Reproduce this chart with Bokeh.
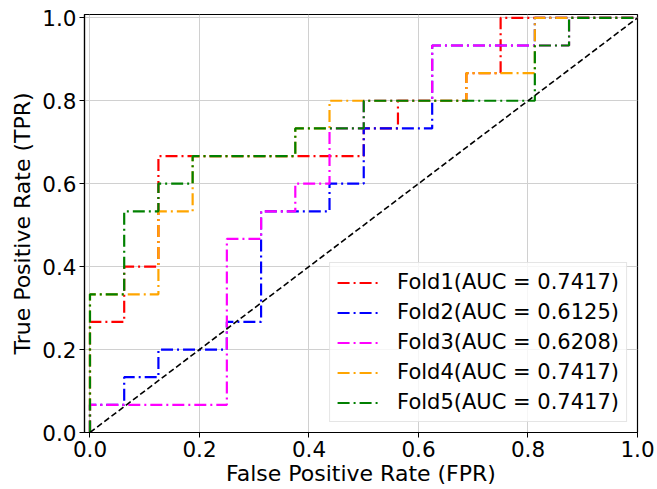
from bokeh.plotting import figure
from bokeh.models import Range1d, FixedTicker, PrintfTickFormatter, Legend, LegendItem
from bokeh.embed import file_html
from bokeh.resources import INLINE

# ---- data (ROC corner points) ----
fold1_fpr = [0, 0, 0.0625, 0.0625, 0.125, 0.125, 0.5, 0.5, 0.5625, 0.5625, 0.6875, 0.6875, 0.75, 0.75, 1.0]
fold1_tpr = [0, 0.2667, 0.2667, 0.4, 0.4, 0.6667, 0.6667, 0.7333, 0.7333, 0.8, 0.8, 0.8667, 0.8667, 1.0, 1.0]

fold2_fpr = [0, 0, 0.0625, 0.0625, 0.125, 0.125, 0.25, 0.25, 0.3125, 0.3125, 0.4375, 0.4375, 0.5, 0.5,
             0.625, 0.625, 0.8125, 0.8125, 1.0]
fold2_tpr = [0, 0.0667, 0.0667, 0.1333, 0.1333, 0.2, 0.2, 0.2667, 0.2667, 0.5333, 0.5333, 0.6, 0.6, 0.7333,
             0.7333, 0.9333, 0.9333, 1.0, 1.0]

fold3_fpr = [0, 0, 0.25, 0.25, 0.3125, 0.3125, 0.375, 0.375, 0.4375, 0.4375, 0.5, 0.5, 0.625, 0.625,
             0.875, 0.875, 1.0]
fold3_tpr = [0, 0.0667, 0.0667, 0.4667, 0.4667, 0.5333, 0.5333, 0.6, 0.6, 0.7333, 0.7333, 0.8, 0.8, 0.9333,
             0.9333, 1.0, 1.0]

fold4_fpr = [0, 0, 0.125, 0.125, 0.1875, 0.1875, 0.375, 0.375, 0.4375, 0.4375, 0.6875, 0.6875, 0.8125, 0.8125, 1.0]
fold4_tpr = [0, 0.3333, 0.3333, 0.5333, 0.5333, 0.6667, 0.6667, 0.7333, 0.7333, 0.8, 0.8, 0.8667, 0.8667, 1.0, 1.0]

fold5_fpr = [0, 0, 0.0625, 0.0625, 0.125, 0.125, 0.1875, 0.1875, 0.375, 0.375, 0.5, 0.5, 0.8125, 0.8125,
             0.875, 0.875, 1.0]
fold5_tpr = [0, 0.3333, 0.3333, 0.5333, 0.5333, 0.6, 0.6, 0.6667, 0.6667, 0.7333, 0.7333, 0.8, 0.8, 0.9333,
             0.9333, 1.0, 1.0]

fold_names = ["Fold1", "Fold2", "Fold3", "Fold4", "Fold5"]
fold_auc = [0.7417, 0.6125, 0.6208, 0.7417, 0.7417]
fold_colors = ["#ff0000", "#0000ff", "#ff00ff", "#ffa500", "#008000"]

chance_x = [0, 1]
chance_y = [0, 1]

tick_values = [0.0, 0.2, 0.4, 0.6, 0.8, 1.0]

FONT = "DejaVu Sans"

p = figure(width=657, height=489, output_backend="svg", toolbar_location=None,
           x_range=Range1d(-0.01, 1.0), y_range=Range1d(0.0, 1.008),
           min_border_left=84, min_border_right=20, min_border_top=14, min_border_bottom=57)
p.background_fill_color = "white"
p.border_fill_color = "white"
p.outline_line_color = "black"
p.outline_line_width = 1.2

for ax in (p.xaxis[0], p.yaxis[0]):
    ax.ticker = FixedTicker(ticks=tick_values)
    ax.formatter = PrintfTickFormatter(format="%.1f")
    ax.major_label_text_font = FONT
    ax.major_label_text_font_size = "21.5px"
    ax.major_label_text_color = "black"
    ax.axis_label_text_font = FONT
    ax.axis_label_text_font_size = "22px"
    ax.axis_label_text_font_style = "normal"
    ax.axis_label_text_color = "black"
    ax.axis_line_color = "black"
    ax.axis_line_width = 1.2
    ax.major_tick_line_color = "black"
    ax.major_tick_out = 5
    ax.major_tick_in = 0
    ax.minor_tick_line_color = None
    ax.major_label_standoff = 3

p.xaxis[0].axis_label_standoff = 1
p.yaxis[0].axis_label_standoff = 4

p.xaxis.axis_label = "False Positive Rate (FPR)"
p.yaxis.axis_label = "True Positive Rate (TPR)"

p.grid.ticker = FixedTicker(ticks=tick_values)
p.grid.grid_line_color = "#d0d0d0"
p.grid.grid_line_width = 1

fprs = [fold1_fpr, fold2_fpr, fold3_fpr, fold4_fpr, fold5_fpr]
tprs = [fold1_tpr, fold2_tpr, fold3_tpr, fold4_tpr, fold5_tpr]

items = []
for name, auc, col, fx, ty in zip(fold_names, fold_auc, fold_colors, fprs, tprs):
    r = p.line(fx, ty, line_color=col, line_width=2.2, line_dash="12 4 2 4")
    items.append(LegendItem(label="%s(AUC = %.4f)" % (name, auc), renderers=[r]))

p.line(chance_x, chance_y, line_color="black", line_width=1.6, line_dash="6 3")

legend = Legend(items=items, location="bottom_right", margin=10, padding=7,
                glyph_width=42, glyph_height=21, label_height=21, label_standoff=18, spacing=6,
                label_text_font=FONT, label_text_font_size="21px", label_text_color="black",
                background_fill_color="white", background_fill_alpha=0.8,
                border_line_color="#cccccc", border_line_width=1)
p.add_layout(legend)

open("out.html", "w").write(file_html(p, INLINE))
